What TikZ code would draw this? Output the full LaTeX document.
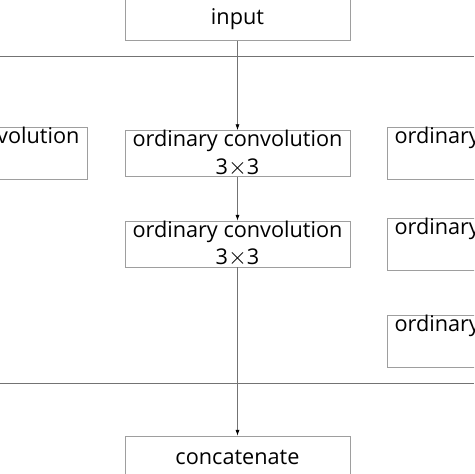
\documentclass[tikz,border=0pt]{standalone}
\usepackage{fontspec}
\setmainfont{Open Sans}
\usetikzlibrary{arrows.meta}
\tikzset{
    block/.style={draw=black!38, line width=0.6pt, minimum width=225*0.03cm, minimum height=43*0.03cm,
        inner sep=0pt, align=center, font=\fontsize{18.5}{23.5}\selectfont},
    link/.style={draw=black!55, line width=0.6pt},
    arr/.style={link, -{Latex[length=5pt, width=3.5pt, black]}}
}
\newcommand{\ksize}{3{\fontsize{22}{23}\selectfont$\times$}3}
\begin{document}
\begin{tikzpicture}[x=0.03cm, y=-0.03cm]
        \useasboundingbox (0,0) rectangle (474,474);
        \clip (0,0) rectangle (474,474);

        % 输入与拼接
        \node[block] (input) at (237.5, 19) {input};
        \node[block] (concat) at (237.5, 457.5) {concatenate};

        % 中间分支
        \node[block] (conv1) at (237.5, 153.5) {ordinary convolution\\\ksize};
        \node[block] (conv2) at (237.5, 244) {ordinary convolution\\\ksize};

        % 两侧分支 (被裁掉)
        \node[block] (left) at (-25.5, 153.5) {ordinary convolution\\\strut};
        \node[block] (right1) at (499.5, 153.5) {ordinary convolution\\\strut};
        \node[block] (right2) at (499.5, 244) {ordinary convolution\\\strut};
        \node[block] (right3) at (499.5, 341) {ordinary convolution\\\strut};

        % 分支线
        \draw[link] (0, 56) -- (474, 56);
        \draw[link] (0, 383) -- (474, 383);

        % 箭头
        \draw[arr] (input) -- (conv1);
        \draw[arr] (conv1) -- (conv2);
        \draw[arr] (conv2) -- (concat);
    \end{tikzpicture}
\end{document}
